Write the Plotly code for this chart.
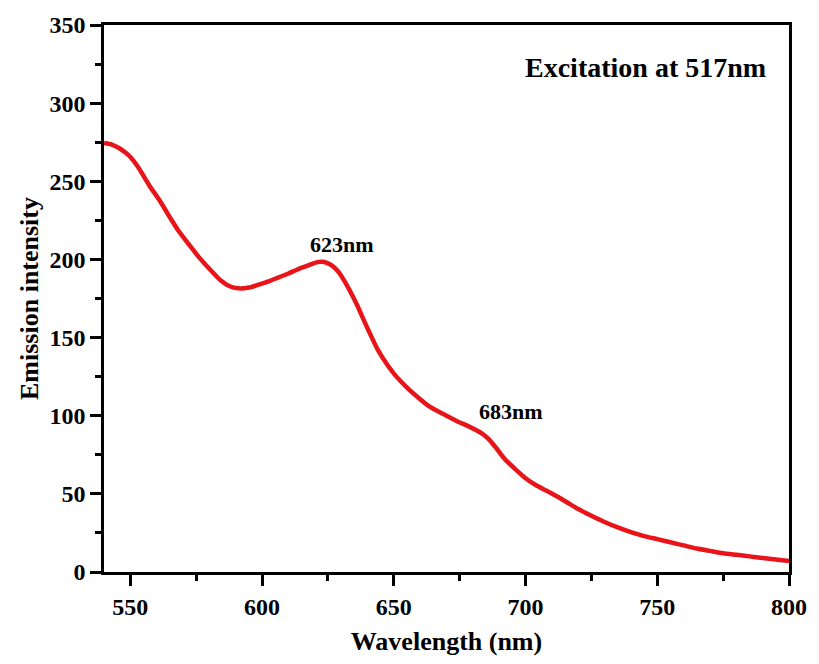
import plotly.graph_objects as go

wavelength = [540, 543, 546, 548, 550, 553, 555, 557.5, 561, 565, 568, 572.5, 576, 580, 584, 587.5, 591, 595, 599,
              603, 606, 610, 614, 618, 621, 623, 625, 627, 629, 632, 636, 640, 644, 648, 651, 655, 659, 663,
              666, 670, 674, 678, 681, 684, 686, 689, 692, 696, 700, 704, 708, 712, 716, 720, 725, 730, 735,
              740, 745, 750, 755, 760, 765, 770, 775, 780, 785, 790, 795, 800]
intensity = [274.5, 273.5, 271, 268.5, 265.5, 259, 253.5, 246.5, 238, 227, 219, 209, 201.5, 194, 187, 183, 181.5, 182, 184,
             186.3, 188.3, 191, 194, 196.5, 198.3, 198.5, 197.5, 195.5, 192, 184, 171, 156, 142, 131.5, 125, 118, 112, 106.5,
             103.5, 100, 96.5, 93.5, 91, 88, 85, 79, 72.5, 66, 60, 55.5, 52, 48.3, 44.3, 40.3, 36, 32, 28.5,
             25.5, 23, 21, 19, 17, 15, 13.5, 12, 11, 10, 9, 8, 7]

peak_labels = ["623nm", "683nm"]
peak_x = [630.2, 694.5]
peak_y = [209.5, 103]
note_text = "Excitation at 517nm"

FONT = "Liberation Serif"

fig = go.Figure()
fig.add_trace(go.Scatter(x=wavelength, y=intensity, mode="lines",
                         line=dict(color="#e8141a", width=4.5, shape="spline", smoothing=0.6),
                         showlegend=False))

for t, xx, yy in zip(peak_labels, peak_x, peak_y):
    fig.add_annotation(x=xx, y=yy, text=t, showarrow=False,
                       font=dict(family=FONT, size=22, color="black", weight="bold"))
fig.add_annotation(x=745.5, y=323, text=note_text, showarrow=False,
                   font=dict(family=FONT, size=28, color="black", weight="bold"))

axis_common = dict(showline=True, linecolor="black", linewidth=2.5, mirror=True,
                   ticks="outside", ticklen=11, tickwidth=2.5, tickcolor="black",
                   showgrid=False, zeroline=False,
                   tickfont=dict(family=FONT, size=24, color="black", weight="bold"))

fig.update_xaxes(range=[540, 800], tickvals=[550, 600, 650, 700, 750, 800],
                 minor=dict(ticks="outside", ticklen=6, tickwidth=2.5, tickcolor="black", dtick=25, tick0=525),
                 title=dict(text="Wavelength (nm)", font=dict(family=FONT, size=26, color="black", weight="bold"), standoff=14),
                 **axis_common)
fig.update_yaxes(range=[0, 350], tickvals=[0, 50, 100, 150, 200, 250, 300, 350],
                 minor=dict(ticks="outside", ticklen=6, tickwidth=2.5, tickcolor="black", dtick=25, tick0=0),
                 title=dict(text="Emission intensity", font=dict(family=FONT, size=26, color="black", weight="bold"), standoff=4),
                 **axis_common)

fig.update_layout(width=819, height=664, plot_bgcolor="white", paper_bgcolor="white",
                  margin=dict(l=104, r=23, t=25, b=91))

fig.write_html("out.html")
